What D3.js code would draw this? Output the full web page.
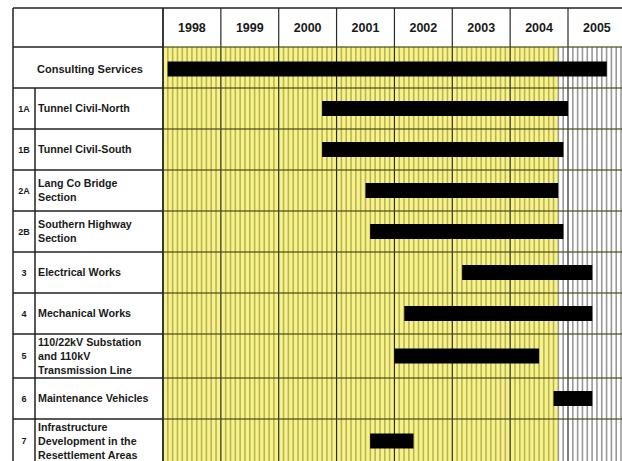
<html><head>
<script src="https://d3js.org/d3.v7.min.js"></script>
<style>
  body { margin:0; background:#fff; }
  text { font-family: "Liberation Sans", Arial, sans-serif; font-weight:bold; fill:#1a1a1a; }
</style>
</head>
<body>
<script>

    // data
    var years = [1998, 1999, 2000, 2001, 2002, 2003, 2004, 2005];
    var codes = ["", "1A", "1B", "2A", "2B", "3", "4", "5", "6", "7"];
    var tasks = [
      ["Consulting Services"],
      ["Tunnel Civil-North"],
      ["Tunnel Civil-South"],
      ["Lang Co Bridge", "Section"],
      ["Southern Highway", "Section"],
      ["Electrical Works"],
      ["Mechanical Works"],
      ["110/22kV Substation", "and 110kV", "Transmission Line"],
      ["Maintenance Vehicles"],
      ["Infrastructure", "Development in the", "Resettlement Areas"]
    ];
    var starts = [1998.08, 2000.75, 2000.75, 2001.50, 2001.58, 2003.17, 2002.17, 2002.00, 2004.75, 2001.58];
    var ends   = [2005.67, 2005.00, 2004.92, 2004.83, 2004.92, 2005.42, 2005.42, 2004.50, 2005.42, 2002.33];
    var statusDate = 2004.83;   // yellow (elapsed) area ends here

    let width = 622;
    let height = 461;
    let svg = d3.select("body").append("svg").attr("width", width).attr("height", height);

    let tblLeft = 13, codeRight = 35, chartLeft = 163, tblTop = 8, headerBottom = 47;

    let xScale = d3.scaleLinear().domain([1998, 2005]).range([chartLeft, 568]);
    let xEnd = 1998 + (width - chartLeft) / (xScale(1999) - xScale(1998));

    // row tops from line count
    let rowTop = [], y = headerBottom;
    tasks.forEach(function(t) { rowTop.push(y); y += (t.length > 2 ? 44 : 41); });
    rowTop.push(y);
    let tableBottom = y;

    // elapsed area
    svg.append("rect")
      .attr("x", chartLeft).attr("y", headerBottom)
      .attr("width", xScale(statusDate) - chartLeft).attr("height", tableBottom - headerBottom)
      .attr("fill", "#f7f38a");

    // month lines
    for (let m = 1; m < (xEnd - 1998) * 12; m++) {
      let t = 1998 + m / 12;
      if (m % 12 == 0) continue;
      svg.append("line")
        .attr("x1", xScale(t)).attr("x2", xScale(t))
        .attr("y1", headerBottom).attr("y2", tableBottom)
        .attr("stroke", t < statusDate - 0.01 ? "#b9b457" : "#999999")
        .attr("stroke-width", 1.6);
    }

    // year lines
    years.forEach(function(yr) {
      svg.append("line")
        .attr("x1", xScale(yr)).attr("x2", xScale(yr))
        .attr("y1", tblTop).attr("y2", tableBottom)
        .attr("stroke", "#2a2a2a").attr("stroke-width", 1.2);
    });

    // row lines
    rowTop.forEach(function(ry, i) {
      svg.append("line")
        .attr("x1", tblLeft).attr("x2", chartLeft)
        .attr("y1", ry).attr("y2", ry)
        .attr("stroke", "#222").attr("stroke-width", 1.5);
      svg.append("line")
        .attr("x1", chartLeft).attr("x2", width)
        .attr("y1", ry).attr("y2", ry)
        .attr("stroke", "#4a4a1a").attr("stroke-opacity", 0.8).attr("stroke-width", 1.3);
    });

    // outer frame
    svg.append("line").attr("x1", tblLeft).attr("x2", width).attr("y1", tblTop).attr("y2", tblTop)
      .attr("stroke", "#222").attr("stroke-width", 1.5);
    svg.append("line").attr("x1", tblLeft).attr("x2", tblLeft).attr("y1", tblTop).attr("y2", tableBottom)
      .attr("stroke", "#222").attr("stroke-width", 1.5);
    svg.append("line").attr("x1", chartLeft).attr("x2", chartLeft).attr("y1", tblTop).attr("y2", tableBottom)
      .attr("stroke", "#222").attr("stroke-width", 1.5);
    svg.append("line").attr("x1", codeRight).attr("x2", codeRight).attr("y1", rowTop[1]).attr("y2", tableBottom)
      .attr("stroke", "#222").attr("stroke-width", 1.5);

    // year labels
    years.forEach(function(yr) {
      svg.append("text")
        .attr("x", (xScale(yr) + Math.min(xScale(yr + 1), width + 4)) / 2)
        .attr("y", (tblTop + headerBottom) / 2 + 4.5)
        .attr("text-anchor", "middle").attr("font-size", 12.5)
        .text(yr);
    });

    // task labels
    tasks.forEach(function(lines, i) {
      let cy = (rowTop[i] + rowTop[i + 1]) / 2;
      let y0 = cy - (lines.length - 1) * 7 + 3.8;
      if (codes[i] == "") {
        svg.append("text").attr("x", (tblLeft + chartLeft) / 2 + 2).attr("y", y0 + 1.5)
          .attr("text-anchor", "middle").attr("font-size", 11).text(lines[0]);
      } else {
        svg.append("text").attr("x", (tblLeft + codeRight) / 2).attr("y", cy + 3.2)
          .attr("text-anchor", "middle").attr("font-size", 9).text(codes[i]);
        lines.forEach(function(l, k) {
          svg.append("text").attr("x", codeRight + 3).attr("y", y0 + k * 14)
            .attr("font-size", 10.7).text(l);
        });
      }
    });

    // bars
    tasks.forEach(function(lines, i) {
      let cy = (rowTop[i] + rowTop[i + 1]) / 2 + (i == 0 ? 1.5 : 0);
      svg.append("rect")
        .attr("x", xScale(starts[i])).attr("y", cy - 7.5)
        .attr("width", xScale(ends[i]) - xScale(starts[i])).attr("height", 15)
        .attr("fill", "#000");
    });

</script>
</body>
</html>
